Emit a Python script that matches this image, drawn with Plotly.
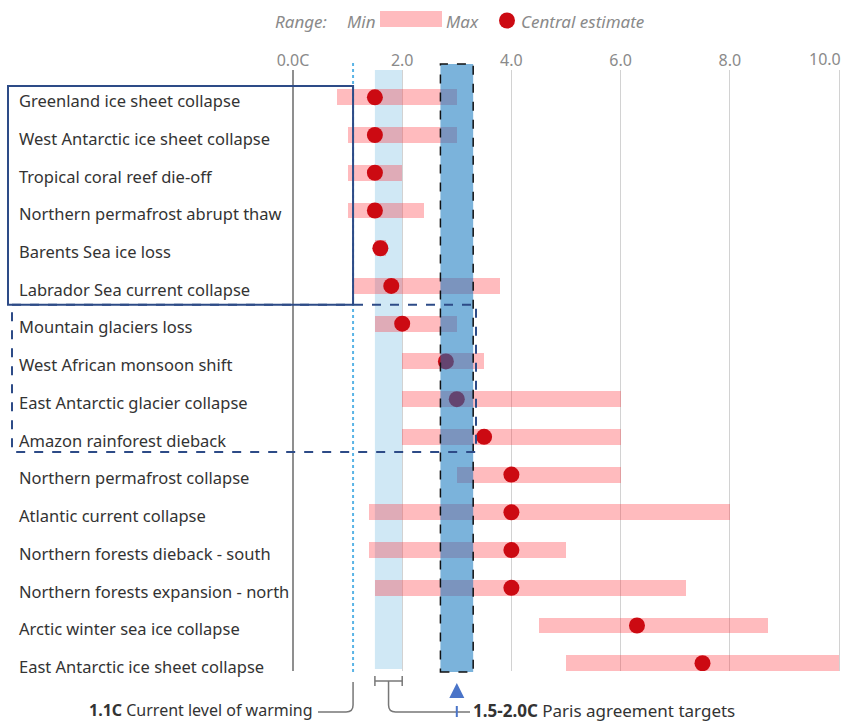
import plotly.graph_objects as go

# ---------------- data ----------------
categories = [
    "Greenland ice sheet collapse",
    "West Antarctic ice sheet collapse",
    "Tropical coral reef die-off",
    "Northern permafrost abrupt thaw",
    "Barents Sea ice loss",
    "Labrador Sea current collapse",
    "Mountain glaciers loss",
    "West African monsoon shift",
    "East Antarctic glacier collapse",
    "Amazon rainforest dieback",
    "Northern permafrost collapse",
    "Atlantic current collapse",
    "Northern forests dieback - south",
    "Northern forests expansion - north",
    "Arctic winter sea ice collapse",
    "East Antarctic ice sheet collapse",
]
range_min = [0.8, 1.0, 1.0, 1.0, 1.5, 1.1, 1.5, 2.0, 2.0, 2.0, 3.0, 1.4, 1.4, 1.5, 4.5, 5.0]
range_max = [3.0, 3.0, 2.0, 2.4, 1.7, 3.8, 3.0, 3.5, 6.0, 6.0, 6.0, 8.0, 5.0, 7.2, 8.7, 10.0]
central = [1.5, 1.5, 1.5, 1.5, 1.6, 1.8, 2.0, 2.8, 3.0, 3.5, 4.0, 4.0, 4.0, 4.0, 6.3, 7.5]

tick_values = [0, 2, 4, 6, 8, 10]
tick_labels = ["0.0C", "2.0", "4.0", "6.0", "8.0", "10.0"]

current_warming = 1.1
paris_low, paris_high = 1.5, 2.0
band_low, band_high = 2.7, 3.3
band_mid = 3.0

# ---------------- layout geometry ----------------
W, H = 843, 721
PLOT_TOP, PLOT_BOTTOM = 70, 671
X0_PX, PX_PER_UNIT = 293, 54.6
XMIN = (0 - X0_PX) / PX_PER_UNIT
XMAX = (W - X0_PX) / PX_PER_UNIT
ROW0_PX, ROW_PX = 97.3, 37.73
YBOT = (PLOT_BOTTOM - ROW0_PX) / ROW_PX
YTOP = (PLOT_TOP - ROW0_PX) / ROW_PX

rows = list(range(len(categories)))


def dpx(v):  # data x -> pixel x
    return X0_PX + v * PX_PER_UNIT


def xp(px):  # pixel x -> paper x
    return px / W


def yp(py):  # pixel y -> paper y
    return (PLOT_BOTTOM - py) / (PLOT_BOTTOM - PLOT_TOP)


def xd(px):  # pixel x -> data x
    return (px - X0_PX) / PX_PER_UNIT


def yd(py):  # pixel y -> row units
    return (py - ROW0_PX) / ROW_PX


FONT = "Noto Sans"
PINK = "rgba(255,49,58,0.33)"
PINK_SOLID = "rgb(255,187,190)"
RED = "#cc0a12"
NAVY = "#2d4b87"
GREY_LINE = "#777777"
BLUE_ARROW = "#4a74c8"
TICK_COL = "#8a8a8a"

fig = go.Figure()

fig.add_trace(go.Bar(
    y=rows,
    x=[mx - mn for mn, mx in zip(range_min, range_max)],
    base=range_min,
    orientation="h",
    width=0.42,
    marker=dict(color=PINK, line=dict(width=0)),
    hoverinfo="skip",
    showlegend=False,
))

fig.add_trace(go.Scatter(
    x=central, y=rows, mode="markers",
    marker=dict(size=16, color=RED, line=dict(width=0)),
    showlegend=False, hoverinfo="skip",
))

fig.add_trace(go.Scatter(
    x=[xd(19)] * len(categories), y=[r + 0.15 for r in rows],
    mode="text", text=categories, textposition="middle right",
    textfont=dict(family=FONT, size=16.5, color="#333333"),
    cliponaxis=False, showlegend=False, hoverinfo="skip",
))

shapes = []
# Paris band (light)
shapes.append(dict(type="rect", xref="x", yref="paper",
                   x0=paris_low, x1=paris_high, y0=yp(669), y1=yp(PLOT_TOP),
                   fillcolor="#d0e8f5", line=dict(width=0), layer="below"))
# current warming dotted line
shapes.append(dict(type="line", xref="x", yref="paper",
                   x0=current_warming, x1=current_warming, y0=yp(672), y1=yp(62),
                   line=dict(color="#5ab4e6", width=2, dash="dot"), layer="above"))
# dark band
shapes.append(dict(type="rect", xref="x", yref="paper",
                   x0=band_low, x1=band_high, y0=yp(672), y1=yp(64),
                   fillcolor="rgba(15,117,190,0.55)",
                   line=dict(color="#111111", width=1.5, dash="dash"), layer="above"))
# solid box
shapes.append(dict(type="rect", xref="x", yref="y",
                   x0=xd(8), x1=current_warming, y0=yd(86), y1=5.5,
                   line=dict(color=NAVY, width=2), layer="above"))
# dashed box
shapes.append(dict(type="rect", xref="x", yref="y",
                   x0=xd(12), x1=xd(476), y0=5.5, y1=yd(452),
                   line=dict(color=NAVY, width=2, dash="dash"), layer="above"))

# bottom connectors
cx = xp(dpx(current_warming))
r_px = 7
path_left = (f"M {cx},{yp(682)} L {cx},{yp(712 - r_px)} "
             f"Q {cx},{yp(712)} {xp(dpx(current_warming) - r_px)},{yp(712)} "
             f"L {xp(318)},{yp(712)}")
shapes.append(dict(type="path", xref="paper", yref="paper", path=path_left,
                   line=dict(color=GREY_LINE, width=1.5)))
# bracket
bl, br = xp(dpx(paris_low)), xp(dpx(paris_high))
shapes.append(dict(type="line", xref="paper", yref="paper", x0=bl, x1=br,
                   y0=yp(681), y1=yp(681), line=dict(color=GREY_LINE, width=1.5)))
for bx in (bl, br):
    shapes.append(dict(type="line", xref="paper", yref="paper", x0=bx, x1=bx,
                       y0=yp(676), y1=yp(686), line=dict(color=GREY_LINE, width=1.5)))
mid_px = dpx((paris_low + paris_high) / 2)
path_right = (f"M {xp(mid_px)},{yp(681)} L {xp(mid_px)},{yp(712 - r_px)} "
              f"Q {xp(mid_px)},{yp(712)} {xp(mid_px + r_px)},{yp(712)} "
              f"L {xp(470)},{yp(712)}")
shapes.append(dict(type="path", xref="paper", yref="paper", path=path_right,
                   line=dict(color=GREY_LINE, width=1.5)))
# arrow
ax_px = dpx(band_mid)
shapes.append(dict(type="path", xref="paper", yref="paper",
                   path=(f"M {xp(ax_px)},{yp(683)} L {xp(ax_px + 7.5)},{yp(698)} "
                         f"L {xp(ax_px - 7.5)},{yp(698)} Z"),
                   fillcolor=BLUE_ARROW, line=dict(width=0)))
shapes.append(dict(type="line", xref="paper", yref="paper",
                   x0=xp(ax_px), x1=xp(ax_px), y0=yp(706), y1=yp(717),
                   line=dict(color=BLUE_ARROW, width=2)))

# legend marks
shapes.append(dict(type="rect", xref="paper", yref="paper",
                   x0=xp(380), x1=xp(442), y0=yp(27), y1=yp(11),
                   fillcolor=PINK_SOLID, line=dict(width=0)))
shapes.append(dict(type="circle", xref="paper", yref="paper",
                   x0=xp(499), x1=xp(515), y0=yp(28.5), y1=yp(12.5),
                   fillcolor=RED, line=dict(width=0)))

annotations = []
LEG_COL = "#8a8a8a"
for txt, px in [("Range:", 273), ("Min", 345), ("Max", 444), ("Central estimate", 519)]:
    annotations.append(dict(xref="paper", yref="paper", x=xp(px), y=yp(21),
                            xanchor="left", yanchor="middle", showarrow=False,
                            text=f"<i>{txt}</i>",
                            font=dict(family=FONT, size=17, color=LEG_COL)))
annotations.append(dict(xref="paper", yref="paper", x=xp(315), y=yp(710),
                        xanchor="right", yanchor="middle", showarrow=False,
                        text="<b>1.1C</b> Current level of warming",
                        font=dict(family=FONT, size=16, color="#333333")))
annotations.append(dict(xref="paper", yref="paper", x=xp(471), y=yp(710),
                        xanchor="left", yanchor="middle", showarrow=False,
                        text="<b>1.5-2.0C</b> Paris agreement targets",
                        font=dict(family=FONT, size=17, color="#333333")))
# last tick label kept inside the figure edge (right-aligned)
annotations.append(dict(xref="paper", yref="paper", x=1.0, y=yp(59),
                        xanchor="right", yanchor="middle", showarrow=False,
                        text=tick_labels[-1],
                        font=dict(family=FONT, size=16, color=TICK_COL)))

fig.update_layout(
    width=W, height=H,
    margin=dict(l=0, r=0, t=PLOT_TOP, b=H - PLOT_BOTTOM, pad=0),
    paper_bgcolor="white", plot_bgcolor="white",
    shapes=shapes, annotations=annotations,
    bargap=0,
    xaxis=dict(range=[XMIN, XMAX], side="top", tickvals=tick_values,
               ticktext=tick_labels[:-1] + [""],
               showgrid=True, gridcolor="#d2d2d2", gridwidth=1,
               zeroline=True, zerolinecolor="#8f8f8f", zerolinewidth=1.5,
               ticks="", ticklen=0,
               tickfont=dict(family=FONT, size=16, color=TICK_COL),
               showline=False, fixedrange=True),
    yaxis=dict(range=[YBOT, YTOP], showgrid=False, zeroline=False, showticklabels=False,
               showline=False, fixedrange=True),
    font=dict(family=FONT),
)

fig.write_html("out.html", config={"displayModeBar": False},
               post_script="document.body.style.margin='0';document.body.style.padding='0';"
                           "document.body.style.overflow='hidden';")
